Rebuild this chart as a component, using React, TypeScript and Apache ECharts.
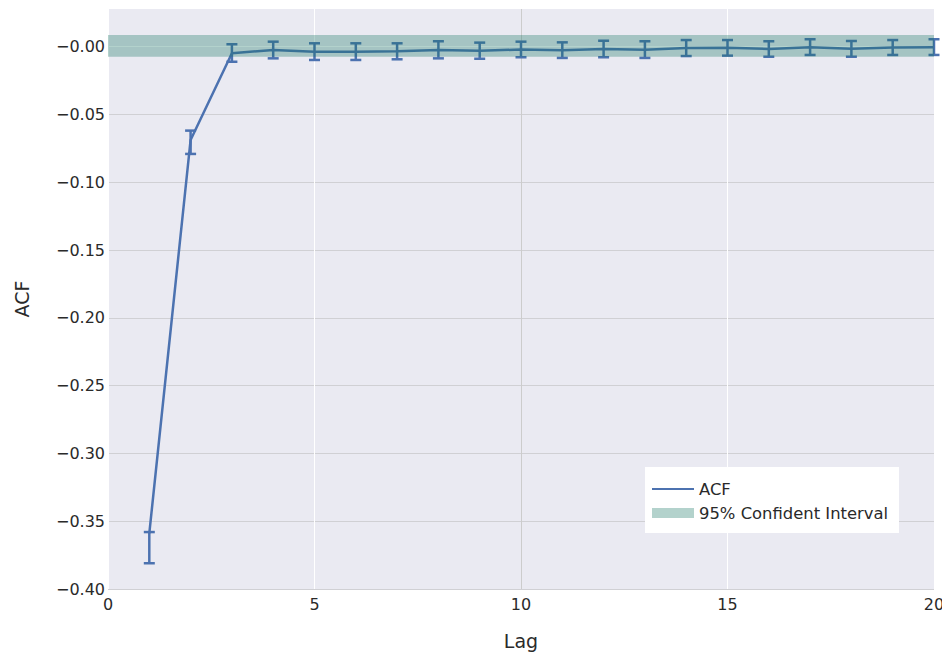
import React, { useEffect, useRef } from "react";
import * as echarts from "echarts";

const lags = [1, 2, 3, 4, 5, 6, 7, 8, 9, 10, 11, 12, 13, 14, 15, 16, 17, 18, 19, 20];
const acfValues = [-0.359, -0.0688, -0.0049, -0.0024, -0.0037, -0.0037, -0.0034, -0.0024, -0.003, -0.0021, -0.0026, -0.0017, -0.0022, -0.001, -0.0008, -0.0017, -0.0004, -0.0015, -0.0006, -0.0004];
const errLower = [-0.381, -0.0791, -0.0111, -0.0086, -0.0098, -0.0098, -0.0093, -0.0086, -0.0089, -0.0078, -0.0083, -0.0078, -0.0083, -0.0069, -0.0066, -0.0074, -0.0061, -0.0074, -0.0061, -0.0061];
const errUpper = [-0.358, -0.0619, 0.0018, 0.0037, 0.0025, 0.0025, 0.0025, 0.004, 0.003, 0.0037, 0.0032, 0.0044, 0.004, 0.0049, 0.0049, 0.004, 0.0055, 0.0042, 0.0049, 0.0055];
const ciBand = [-0.0074, 0.0086];

const FONT = "DejaVu Sans";
const TEXT = "#2a2a2a";
const BLUE = "#4c72b0";
const BAND = "rgba(20,115,96,0.32)";

export default function App() {
  const ref = useRef<HTMLDivElement>(null);
  useEffect(() => {
    if (!ref.current) return;
    const chart = echarts.init(ref.current, null, { renderer: "svg" });
    const acfData = lags.map((l, i) => [l, acfValues[i]]);
    const errData = lags.map((l, i) => [l, errLower[i], errUpper[i]]);
    chart.setOption({
      animation: false,
      textStyle: { fontFamily: FONT },
      grid: {
        left: 108,
        right: 8,
        top: 9,
        bottom: 63,
        show: true,
        backgroundColor: "#eaeaf2",
        borderWidth: 0,
        containLabel: false,
        outerBoundsMode: "none",
      },
      xAxis: {
        type: "value",
        min: 0,
        max: 20,
        interval: 5,
        name: "Lag",
        nameLocation: "middle",
        nameGap: 42,
        nameTextStyle: { fontSize: 19, color: TEXT, fontFamily: FONT },
        axisLine: { show: false },
        axisTick: { show: false },
        axisLabel: { fontSize: 16, color: TEXT, margin: 7, fontFamily: FONT },
        splitLine: {
          show: true,
          lineStyle: { color: ["#ffffff", "#ffffff", "#cccccc", "#ffffff", "#ffffff"], width: 1 },
        },
      },
      yAxis: {
        type: "value",
        min: -0.4,
        max: 0.0278,
        interval: 0.05,
        name: "ACF",
        nameLocation: "middle",
        nameGap: 77,
        nameRotate: 90,
        nameTextStyle: { fontSize: 19, color: TEXT, fontFamily: FONT },
        axisLine: { show: false },
        axisTick: { show: false },
        axisLabel: {
          fontSize: 16,
          color: TEXT,
          margin: 3,
          fontFamily: FONT,
          showMaxLabel: false,
          formatter: (v: number) => (v > 0.001 ? "" : "\u2212" + Math.abs(v).toFixed(2)),
        },
        splitLine: {
          show: true,
          showMaxLine: false,
          lineStyle: {
            color: ["#d0d0d4", "#d0d0d4", "#d0d0d4", "#d0d0d4", "#d0d0d4", "#d0d0d4", "#d0d0d4", "#d0d0d4", "#ffffff"],
            width: 1,
          },
        },
      },
      legend: [
        {
          data: [{ name: "ACF", icon: "rect" }],
          left: 652,
          top: 479,
          padding: 0,
          itemWidth: 42,
          itemHeight: 2,
          z: 6,
          textStyle: { fontSize: 16.4, color: TEXT, fontFamily: FONT, lineHeight: 20 },
          selectedMode: false,
        },
        {
          data: [{ name: "95% Confident Interval", icon: "rect" }],
          left: 652,
          top: 503,
          padding: 0,
          itemWidth: 42,
          itemHeight: 10,
          z: 6,
          textStyle: { fontSize: 16.4, color: TEXT, fontFamily: FONT, lineHeight: 20 },
          selectedMode: false,
        },
      ],
      graphic: [
        {
          type: "rect",
          shape: { x: 645, y: 467, width: 254, height: 66 },
          style: { fill: "#ffffff" },
          z: 5,
        },
      ],
      series: [
        {
          name: "ACF",
          type: "line",
          data: acfData,
          symbol: "none",
          itemStyle: { color: BLUE },
          lineStyle: { color: BLUE, width: 2.5 },
          z: 2,
        },
        {
          name: "ACF error",
          type: "custom",
          data: errData,
          encode: { x: 0, y: [1, 2] },
          z: 3,
          renderItem: (params: any, api: any) => {
            const x = api.value(0);
            const lo = api.coord([x, api.value(1)]);
            const hi = api.coord([x, api.value(2)]);
            const hw = 5.5;
            const style = { stroke: BLUE, lineWidth: 2.5, fill: "none" };
            return {
              type: "group",
              children: [
                { type: "line", shape: { x1: lo[0], y1: lo[1], x2: hi[0], y2: hi[1] }, style },
                { type: "line", shape: { x1: lo[0] - hw, y1: lo[1], x2: lo[0] + hw, y2: lo[1] }, style },
                { type: "line", shape: { x1: hi[0] - hw, y1: hi[1], x2: hi[0] + hw, y2: hi[1] }, style },
              ],
            };
          },
        },
        {
          name: "95% Confident Interval",
          type: "line",
          data: [],
          symbol: "none",
          itemStyle: { color: BAND },
          lineStyle: { color: BAND },
          z: 4,
          markArea: {
            silent: true,
            z: 10,
            itemStyle: { color: BAND },
            data: [[{ yAxis: ciBand[1] }, { yAxis: ciBand[0] }]],
          },
        },
      ],
    });
    return () => chart.dispose();
  }, []);
  return <div ref={ref} style={{ width: 942, height: 652, position: "absolute", left: 0, top: 0 }} />;
}
